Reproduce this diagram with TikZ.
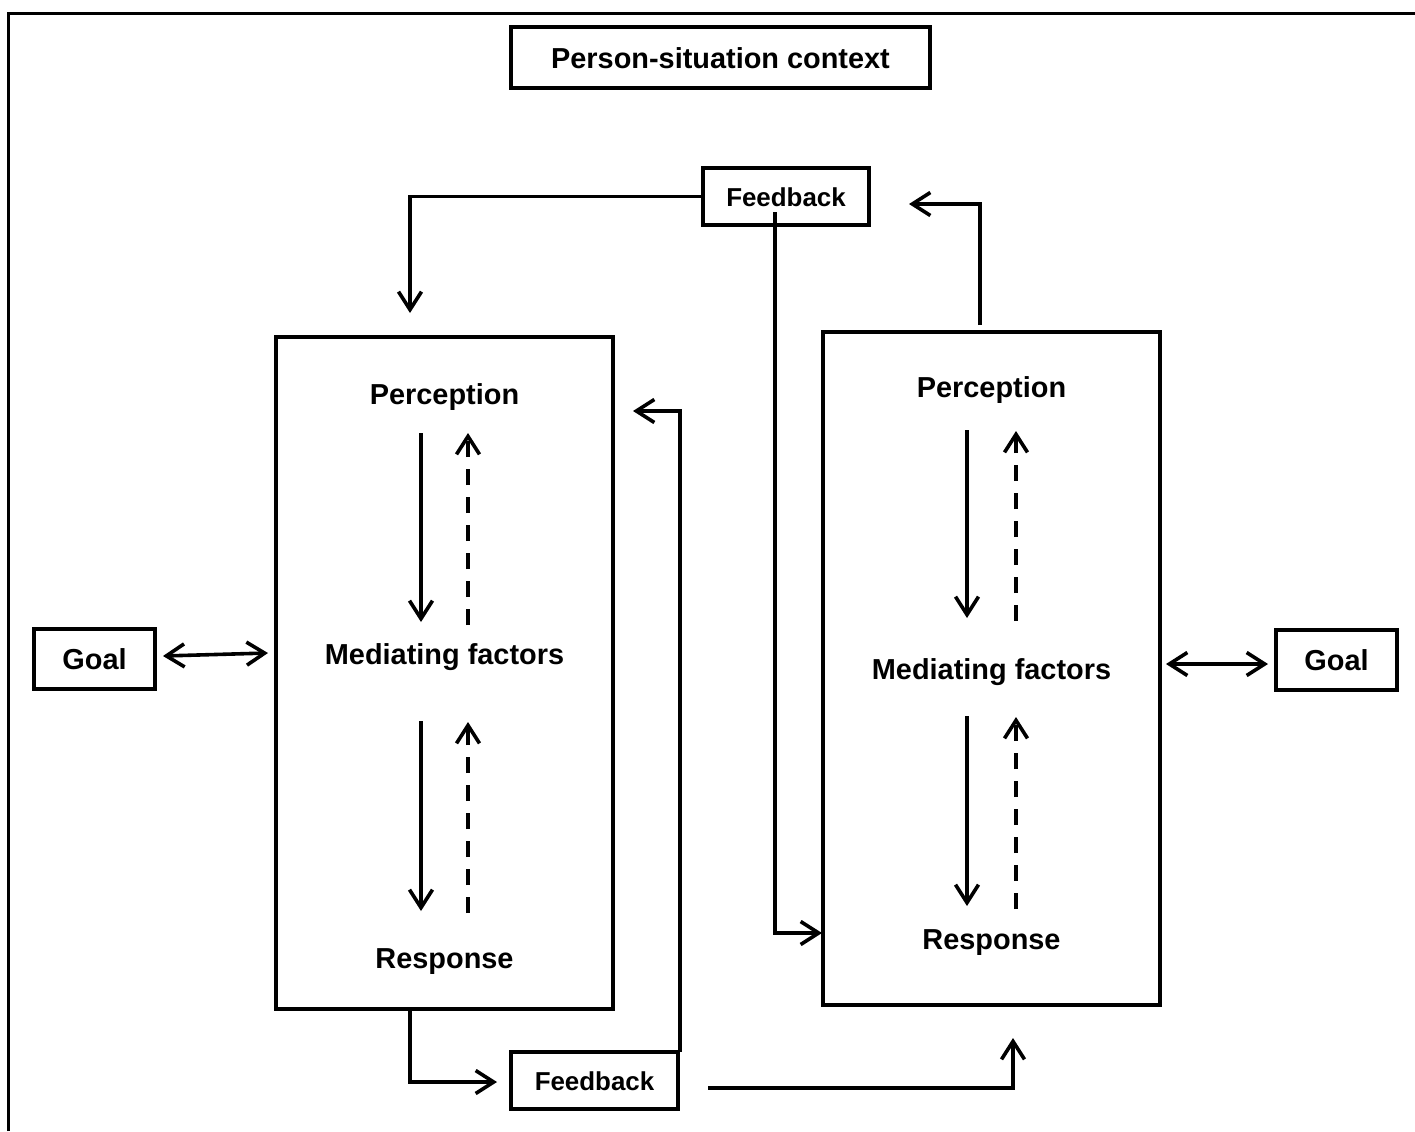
\documentclass[tikz,border=0pt]{standalone}
\usepackage{fontspec}
\setmainfont{Liberation Sans}
\usetikzlibrary{arrows.meta,calc}
\begin{document}
\begin{tikzpicture}[x=1bp,y=-1bp,
  big/.style={font=\fontsize{29}{34}\selectfont\bfseries,text height=21bp,text depth=0bp},
  small/.style={font=\fontsize{26}{30}\selectfont\bfseries,text height=19bp,text depth=0bp},
  box/.style={draw,line width=3.6bp,inner sep=0pt},
  lbl/.style={inner sep=0pt},
  ln/.style={line width=3.6bp},
  tip/.style={-{Straight Barb[length=18bp,width=23bp]}},
  arr/.style={ln,tip},
  darr/.style={ln,tip,dash pattern=on 16bp off 12bp},
  biarr/.style={ln,{Straight Barb[length=18bp,width=23bp]}-{Straight Barb[length=18bp,width=23bp]}}]
\useasboundingbox (0,0) rectangle (1415,1131);
% outer frame
\draw[line width=3bp] (8,1131) -- (8,13) -- (1415,13);
% boxes
\node[box,big,minimum width=419bp,minimum height=61bp] (title) at (720.5,57.5) {Person-situation context};
\node[box,minimum width=337bp,minimum height=672bp] (lbox) at (444.5,673) {};
\node[box,minimum width=337bp,minimum height=673bp] (rbox) at (991.5,668.5) {};
\node[box,big,minimum width=121bp,minimum height=60bp] (lgoal) at (94.5,659) {Goal};
\node[box,big,minimum width=121bp,minimum height=60bp] (rgoal) at (1336.5,660) {Goal};
\node[box,small,minimum width=166bp,minimum height=57bp] (fbt) at (786,196.5) {Feedback};
\node[box,small,minimum width=167bp,minimum height=57bp] (fbb) at (594.5,1080.5) {Feedback};
% inner labels
\node[lbl,big] (lper) at (444.5,394) {Perception};
\node[lbl,big] (lmed) at (444.5,654) {Mediating factors};
\node[lbl,big] (lres) at (444.5,958) {Response};
\node[lbl,big] (rper) at (991.5,387) {Perception};
\node[lbl,big] (rmed) at (991.5,669) {Mediating factors};
\node[lbl,big] (rres) at (991.5,939) {Response};
% inner arrows left
\coordinate (la1s) at (421,433); \coordinate (la1e) at (421,622);
\coordinate (la2s) at (468,625); \coordinate (la2e) at (468,433);
\coordinate (la3s) at (421,721); \coordinate (la3e) at (421,911);
\coordinate (la4s) at (468,913); \coordinate (la4e) at (468,722);
\draw[arr] (la1s) -- (la1e);
\draw[darr] (la2s) -- (la2e);
\draw[arr] (la3s) -- (la3e);
\draw[darr] (la4s) -- (la4e);
% inner arrows right
\coordinate (ra1s) at (967,430); \coordinate (ra1e) at (967,618);
\coordinate (ra2s) at (1016,621); \coordinate (ra2e) at (1016,431);
\coordinate (ra3s) at (967,716); \coordinate (ra3e) at (967,906);
\coordinate (ra4s) at (1016,909); \coordinate (ra4e) at (1016,717);
\draw[arr] (ra1s) -- (ra1e);
\draw[darr] (ra2s) -- (ra2e);
\draw[arr] (ra3s) -- (ra3e);
\draw[darr] (ra4s) -- (ra4e);
% goal arrows
\coordinate (lg1) at (163,656); \coordinate (lg2) at (268,653);
\draw[biarr] (lg1) -- (lg2);
\coordinate (rg1) at (1166,664); \coordinate (rg2) at (1268,664);
\draw[biarr] (rg1) -- (rg2);
% feedback connectors
\coordinate (c1e) at (410,313);
\draw[arr] (fbt.west) -| (c1e);
\coordinate (c2s) at (775,212); \coordinate (c2e) at (822,933);
\draw[arr] (c2s) |- (c2e);
\coordinate (c3s) at (980,325); \coordinate (c3e) at (909,204);
\draw[arr] (c3s) |- (c3e);
\coordinate (c4s) at (410,1009); \coordinate (c4e) at (497,1082);
\draw[arr] (c4s) |- (c4e);
\coordinate (c5s) at (680,1052); \coordinate (c5e) at (633,411);
\draw[arr] (c5s) |- (c5e);
\coordinate (c6s) at (708,1088); \coordinate (c6e) at (1013,1038);
\draw[arr] (c6s) -| (c6e);
\end{tikzpicture}
\end{document}
